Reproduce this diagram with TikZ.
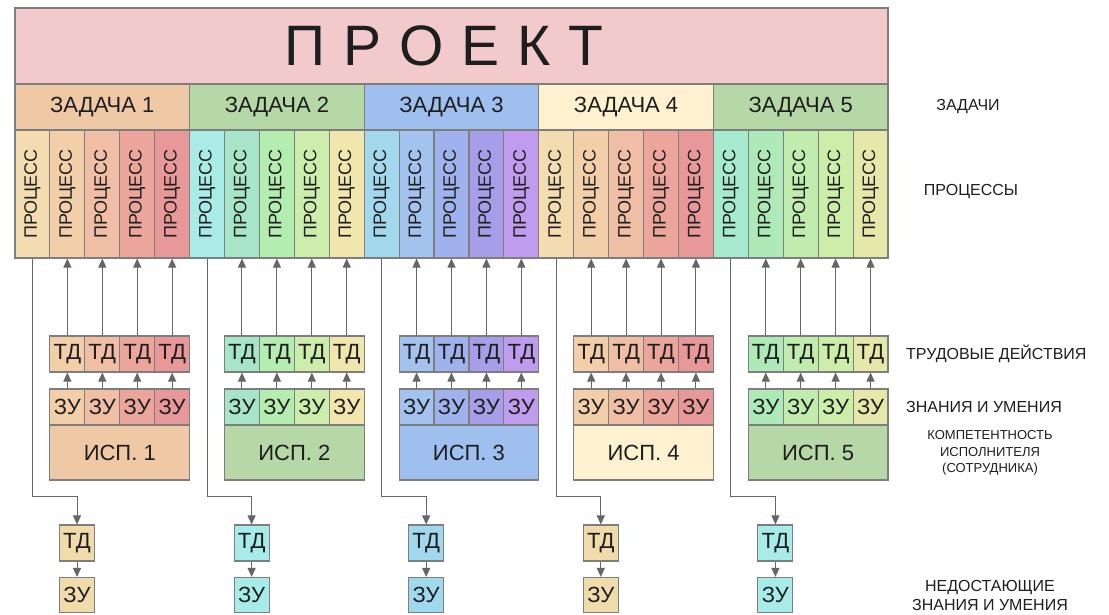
\documentclass[tikz,border=0pt]{standalone}
\usepackage{fontspec}
\usepackage{graphicx}
\setmainfont{Liberation Sans}
\usetikzlibrary{arrows.meta}

% fills
\definecolor{proj}{HTML}{F3CACB}
\definecolor{edge}{HTML}{7E7E7E}
\definecolor{wire}{HTML}{666666}
\definecolor{ink}{HTML}{1E1E1E}
\definecolor{t1}{HTML}{EFC9A6}
\definecolor{t2}{HTML}{B6D8A7}
\definecolor{t3}{HTML}{9FBFEF}
\definecolor{t4}{HTML}{FDF1D0}
\definecolor{t5}{HTML}{B6D8A7}
% process columns, task by task
\definecolor{p11}{HTML}{F3DDB0}\definecolor{p12}{HTML}{F2CFA8}\definecolor{p13}{HTML}{F0BEA5}
\definecolor{p14}{HTML}{EBA59B}\definecolor{p15}{HTML}{E99899}
\definecolor{p21}{HTML}{A9EBE7}\definecolor{p22}{HTML}{A7E5C8}\definecolor{p23}{HTML}{B3EDB0}
\definecolor{p24}{HTML}{CCEDAB}\definecolor{p25}{HTML}{F0E6AE}
\definecolor{p31}{HTML}{A3D7EC}\definecolor{p32}{HTML}{A3C3EE}\definecolor{p33}{HTML}{A0B2EE}
\definecolor{p34}{HTML}{A79EE9}\definecolor{p35}{HTML}{C09CEF}
\definecolor{p41}{HTML}{F3DDB0}\definecolor{p42}{HTML}{F2CFA8}\definecolor{p43}{HTML}{F0BEA5}
\definecolor{p44}{HTML}{EBA59B}\definecolor{p45}{HTML}{E99899}
\definecolor{p51}{HTML}{A6EAD0}\definecolor{p52}{HTML}{AEE9B8}\definecolor{p53}{HTML}{C0ECAE}
\definecolor{p54}{HTML}{CDEEA8}\definecolor{p55}{HTML}{E6E8AA}
% missing TD / ZU
\definecolor{m1}{HTML}{F0DBAA}
\definecolor{m2}{HTML}{A8ECEA}
\definecolor{m3}{HTML}{A0D8EE}
\definecolor{m4}{HTML}{F0DBAA}
\definecolor{m5}{HTML}{A8ECEA}

\begin{document}
\begin{tikzpicture}[x=1pt, y=-1pt,
  cell/.style={draw=edge, line width=1.1pt, inner sep=0pt, text=ink},
  big/.style={font=\fontsize{22}{24}\selectfont},
  lbl/.style={inner sep=0pt, text=ink, font=\fontsize{16}{19}\selectfont},
  link/.style={-{Triangle[length=9pt,width=8pt]}, draw=wire, fill=wire, line width=1pt}]
  \useasboundingbox (0,0) rectangle (1109,614);

  % Project bar
  \node[cell, fill=proj, minimum width=873pt, minimum height=76pt,
        font=\fontsize{57}{60}\selectfont] (proj) at (451.5,46) {П\hspace{18pt}Р\hspace{18pt}О\hspace{18pt}Е\hspace{18pt}К\hspace{18pt}Т\kern15pt};

  \def\tw{174.6} % task width
  \def\cw{34.92} % column width
  \foreach \i in {1,...,5}{
    \pgfmathsetmacro{\xl}{15+\tw*(\i-1)}
    % task
    \node[cell, big, fill=t\i, minimum width=\tw pt, minimum height=46pt] (task\i) at (\xl+\tw/2,107) {ЗАДАЧА \i};
    % processes
    \foreach \j in {1,...,5}
      \node[cell, fill=p\i\j, minimum width=\cw pt, minimum height=128pt,
            font=\fontsize{18}{20}\selectfont] (p\i-\j) at (\xl+\cw*\j-\cw/2,194) {\rotatebox{90}{ПРОЦЕСС}};
    % executor: ZU -> TD -> process
    \foreach \k [evaluate=\k as \j using int(\k+1)] in {1,...,4}{
      \node[cell, big, fill=p\i\j, minimum width=\cw pt, minimum height=36pt] (td\i-\k) at (\xl+\cw*\j-\cw/2,354) {ТД};
      \node[cell, big, fill=p\i\j, minimum width=\cw pt, minimum height=36pt] (zu\i-\k) at (\xl+\cw*\j-\cw/2,407) {ЗУ};
      \draw[link] (td\i-\k) -- (p\i-\j);
      \draw[link] (zu\i-\k) -- (td\i-\k);
    }
    \node[cell, big, fill=t\i, minimum width=4*\cw pt, minimum height=55pt] (isp\i) at (\xl+3*\cw,452.5) {ИСП. \i};
    % missing TD / ZU
    \node[cell, big, fill=m\i, minimum width=35pt, minimum height=36pt] (mtd\i) at (\xl+62,543) {ТД};
    \node[cell, big, fill=m\i, minimum width=35pt, minimum height=35pt] (mzu\i) at (\xl+62,595) {ЗУ};
    \draw[link, fill=none] (p\i-1.south) -- ++(0,238) -| (mtd\i.north);
    \draw[link] (mtd\i) -- (mzu\i);
  }

  % Legend on the right
  \node[lbl] (lbltask) at (968,107) {ЗАДАЧИ};
  \node[lbl] (lblproc) at (971,192) {ПРОЦЕССЫ};
  \node[lbl, anchor=west] (lbltd) at (906,354) {ТРУДОВЫЕ ДЕЙСТВИЯ};
  \node[lbl, anchor=west] (lblzu) at (906,407) {ЗНАНИЯ И УМЕНИЯ};
  \node[lbl, align=center, font=\fontsize{13}{16.5}\selectfont] (lblisp) at (990,453) {КОМПЕТЕНТНОСТЬ\\ИСПОЛНИТЕЛЯ\\(СОТРУДНИКА)};
  \node[lbl, align=center] (lblmiss) at (990,595) {НЕДОСТАЮЩИЕ\\ЗНАНИЯ И УМЕНИЯ};
\end{tikzpicture}
\end{document}
